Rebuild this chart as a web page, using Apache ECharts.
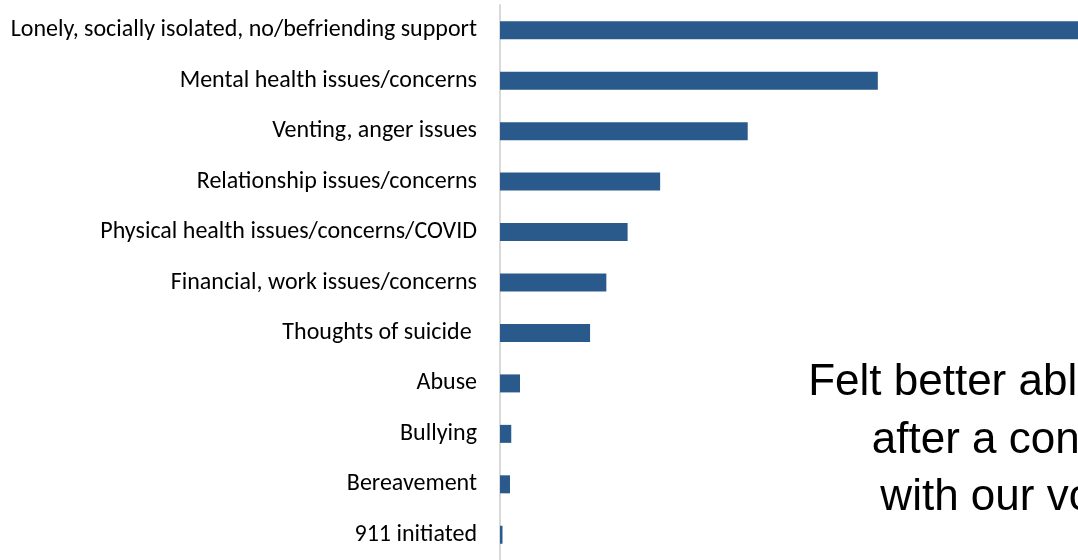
<!DOCTYPE html>
<html>
<head>
<meta charset="utf-8">
<script src="https://cdn.jsdelivr.net/npm/echarts@6/dist/echarts.min.js"></script>
<style>
html,body{margin:0;padding:0;background:#fff;}
#chart{width:1078px;height:560px;}
</style>
</head>
<body>
<div id="chart"></div>
<script>
const categories = [
  "Lonely, socially isolated, no/befriending support",
  "Mental health issues/concerns",
  "Venting, anger issues",
  "Relationship issues/concerns",
  "Physical health issues/concerns/COVID",
  "Financial, work issues/concerns",
  "Thoughts of suicide ",
  "Abuse",
  "Bullying",
  "Bereavement",
  "911 initiated"
];
const values = [46.2, 30.2, 19.8, 12.8, 10.2, 8.5, 7.2, 1.6, 0.9, 0.8, 0.2];
const overlayLines = ["Felt better able to manage", "after a conversation", "with our volunteers"];

const chart = echarts.init(document.getElementById('chart'), null, {renderer: 'canvas'});
const labelFont = 'Carlito, Calibri, "Open Sans", sans-serif';
chart.setOption({
  animation: false,
  backgroundColor: '#ffffff',
  grid: {left: 500, top: 5, width: 578, height: 557, containLabel: false},
  xAxis: {type: 'value', min: 0, max: 46.2, show: false},
  yAxis: {
    type: 'category',
    data: categories,
    inverse: true,
    axisLine: {show: true, lineStyle: {color: '#d9d9d9', width: 2}},
    axisTick: {show: false},
    axisLabel: {color: '#000000', fontSize: 24, fontFamily: labelFont, margin: 23, padding: [3, 0, 0, 0]}
  },
  series: [{
    type: 'bar',
    data: values,
    barWidth: 18,
    itemStyle: {color: '#2A5A8B'}
  }],
  graphic: overlayLines.map((t, i) => ({
    type: 'text',
    silent: true,
    style: {
      text: t,
      x: 1065,
      y: 383 + i * 57.5,
      textAlign: 'center',
      textVerticalAlign: 'middle',
      font: '44px "Liberation Sans", Arial, sans-serif',
      fill: '#000000'
    }
  }))
});
</script>
</body>
</html>
